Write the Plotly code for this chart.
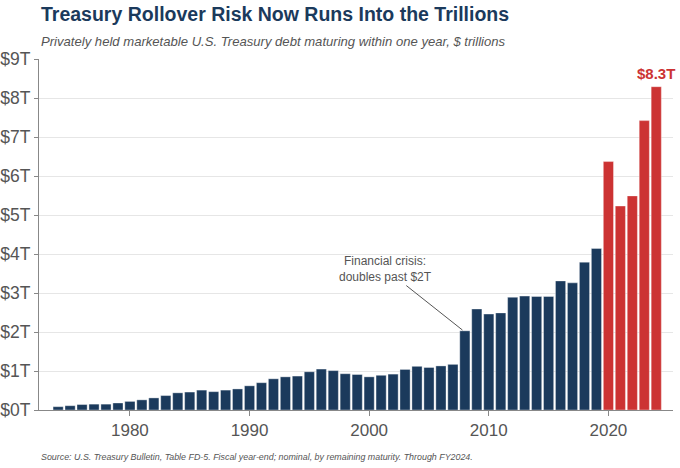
import plotly.graph_objects as go

# Fiscal years and $ trillions maturing within one year
years = list(range(1974, 2025))
debt_trillions = [
    0.085, 0.11, 0.14, 0.15, 0.15, 0.18, 0.22, 0.26, 0.31, 0.37,   # 1974-1983
    0.44, 0.46, 0.51, 0.47, 0.51, 0.54, 0.62, 0.70, 0.80, 0.85,    # 1984-1993
    0.87, 0.98, 1.05, 1.01, 0.93, 0.91, 0.85, 0.89, 0.92, 1.04,    # 1994-2003
    1.12, 1.09, 1.13, 1.17, 2.03, 2.59, 2.46, 2.49, 2.89, 2.92,    # 2004-2013
    2.91, 2.91, 3.31, 3.26, 3.79, 4.14, 6.37, 5.23, 5.49, 7.42,    # 2014-2023
    8.29,                                                          # 2024
]
y_ticks = [0, 1, 2, 3, 4, 5, 6, 7, 8, 9]
y_tick_labels = [f"${v}T" for v in y_ticks]
x_ticks = [1980, 1990, 2000, 2010, 2020]

navy = "#1b3a5c"
red = "#cc3333"
bar_colors = [red if yr >= 2020 else navy for yr in years]

fig = go.Figure()
fig.add_trace(go.Bar(
    x=years,
    y=debt_trillions,
    marker=dict(color=bar_colors, line=dict(color="rgba(255,255,255,0.6)", width=0.6)),
    width=0.85,
    hoverinfo="x+y",
))

fig.update_layout(
    width=680,
    height=468,
    margin=dict(l=39, r=7, t=59, b=58),
    paper_bgcolor="white",
    plot_bgcolor="white",
    font=dict(family="Liberation Sans, Arial, sans-serif", color="#555555"),
    showlegend=False,
    xaxis=dict(
        range=[1972.4, 2025.4],
        tickvals=x_ticks,
        ticks="outside",
        ticklen=5,
        tickcolor="#888888",
        tickfont=dict(size=17, color="#555555"),
        showline=True,
        linecolor="#888888",
        linewidth=1,
        showgrid=False,
        zeroline=False,
        automargin=False,
    ),
    yaxis=dict(
        range=[0, 9],
        tickvals=y_ticks,
        ticktext=y_tick_labels,
        ticks="outside",
        ticklen=4,
        tickcolor="#888888",
        tickfont=dict(size=17.5, color="#555555"),
        showline=True,
        linecolor="#888888",
        linewidth=1,
        gridcolor="#e6e6e6",
        zeroline=False,
        automargin=False,
    ),
    annotations=[
        dict(
            x=0, y=1, xref="paper", yref="paper",
            xshift=0, yshift=45,
            text="<b>Treasury Rollover Risk Now Runs Into the Trillions</b>",
            showarrow=False, xanchor="left", yanchor="middle",
            font=dict(size=19.5, color="#1b3a5c"),
        ),
        dict(
            x=0, y=1, xref="paper", yref="paper",
            xshift=0, yshift=18,
            text="<i>Privately held marketable U.S. Treasury debt maturing within one year, $ trillions</i>",
            showarrow=False, xanchor="left", yanchor="middle",
            font=dict(size=13.1, color="#555555"),
        ),
        dict(
            x=0, y=0, xref="paper", yref="paper",
            xshift=0, yshift=-47,
            text="<i>Source: U.S. Treasury Bulletin, Table FD-5. Fiscal year-end; nominal, by remaining maturity. Through FY2024.</i>",
            showarrow=False, xanchor="left", yanchor="middle",
            font=dict(size=8.9, color="#555555"),
        ),
        dict(
            x=years[-1], y=debt_trillions[-1],
            text=f"<b>${debt_trillions[-1]:.1f}T</b>",
            showarrow=False, yanchor="bottom", yshift=3,
            font=dict(size=15, color=red),
        ),
        dict(
            x=2007.8, y=2.05,
            text="Financial crisis:<br>doubles past $2T",
            showarrow=True, arrowhead=0, arrowwidth=1, arrowcolor="#555555",
            ax=-77, ay=-61,
            font=dict(size=12, color="#555555"),
        ),
    ],
)

# the page's default body margin would push the figure 8px down and right
fig.write_html(
    "out.html",
    config={"displayModeBar": False},
    post_script="document.body.style.margin='0';",
)
